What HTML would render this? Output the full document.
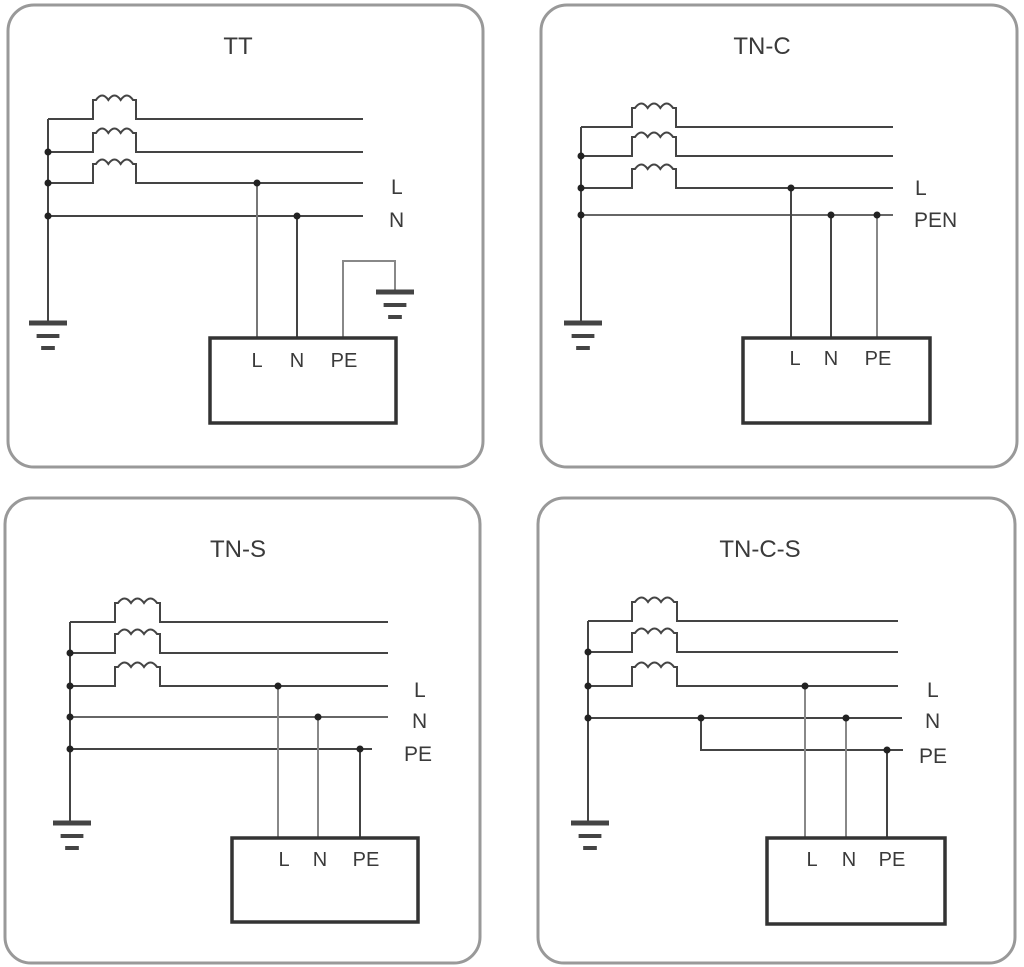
<!DOCTYPE html>
<html><head><meta charset="utf-8"><style>
html,body{margin:0;padding:0;background:#fff}
svg{display:block}
text{font-family:"Liberation Sans",Arial,sans-serif;fill:#3a3a3a}
</style></head><body>
<svg id="s" width="1024" height="967" viewBox="0 0 1024 967" xmlns="http://www.w3.org/2000/svg">
<g fill="none" stroke="#999" stroke-width="3">
<rect x="8" y="5" width="475" height="462" rx="26"/>
<rect x="541" y="5" width="476" height="462" rx="26"/>
<rect x="5" y="498" width="475" height="465" rx="26"/>
<rect x="538" y="498" width="477" height="465" rx="26"/>
</g>
<g font-size="24" text-anchor="middle">
<text x="238" y="54">TT</text>
<text x="762" y="54">TN-C</text>
<text x="238" y="557">TN-S</text>
<text x="760" y="557">TN-C-S</text>
</g>
<g font-size="21">
<text x="391" y="194">L</text><text x="389" y="227">N</text>
<text x="915" y="195">L</text><text x="914" y="227">PEN</text>
<text x="414" y="697">L</text><text x="412" y="728">N</text><text x="404" y="761">PE</text>
<text x="927" y="697">L</text><text x="925" y="728">N</text><text x="919" y="763">PE</text>
</g>
<g font-size="20" text-anchor="middle">
<text x="257" y="367">L</text><text x="297" y="367">N</text><text x="344" y="367">PE</text>
<text x="795" y="365">L</text><text x="831" y="365">N</text><text x="878" y="365">PE</text>
<text x="284" y="866">L</text><text x="320" y="866">N</text><text x="366" y="866">PE</text>
<text x="812" y="866">L</text><text x="849" y="866">N</text><text x="892" y="866">PE</text>
</g>
<g id="g" fill="none" stroke="#444" stroke-width="2"></g>
</svg>
<script>
var g=document.getElementById('g'),ns='http://www.w3.org/2000/svg';
function el(t,a){var e=document.createElementNS(ns,t);for(var k in a)e.setAttribute(k,a[k]);g.appendChild(e);return e;}
function P(d,w,c){el('path',{d:d,'stroke-width':w||2,stroke:c||'#444'});}
function dot(x,y){el('circle',{cx:x,cy:y,r:3.5,fill:'#222',stroke:'none'});}
function coilLine(x0,y,xa,xb,x1){
 var h=19,d='M'+x0+' '+y+'H'+xa+'V'+(y-h)+' ';
 var w=(xb-xa-6)/3; var cx=xa+3;
 d+='H'+cx;
 for(var i=0;i<3;i++){d+=' q'+(w/2)+' -9 '+w+' 0';}
 d+=' H'+xb+'V'+y+'H'+x1;P(d,2);
}
function ground(x,y,w){P('M'+(x-w/2)+' '+y+'h'+w,5);P('M'+(x-w*0.3)+' '+(y+13)+'h'+(w*0.6),4);P('M'+(x-w*0.18)+' '+(y+25)+'h'+(w*0.36),4);}
function box(x,y,w,h){el('rect',{x:x,y:y,width:w,height:h,'stroke-width':3.5,stroke:'#333'});}
// TT
[119,152,183].forEach(function(y){coilLine(48,y,93,136,363);});
P('M48 216H363');P('M48 119V322');[152,183,216].forEach(function(y){dot(48,y)});
ground(48,323,38);
P('M257 183V338',2,'#777');P('M297 216V338');dot(257,183);dot(297,216);
P('M343 338V261H395V291',2,'#888');ground(395,292,38);
box(210,338,186,85);
// TN-C
[127,156,188].forEach(function(y){coilLine(581,y,632,676,893);});
P('M581 215H893',2,'#666');P('M581 127V322');[156,188,215].forEach(function(y){dot(581,y)});
ground(583,323,38);
P('M791 188V338');P('M831 215V338');P('M877 215V338',2,'#888');dot(791,188);dot(831,215);dot(877,215);
box(743,338,187,85);
// TN-S
[622,653,686].forEach(function(y){coilLine(70,y,115,160,388);});
P('M70 717H388',2,'#666');P('M70 749H372');P('M70 622V822');[653,686,717,749].forEach(function(y){dot(70,y)});
ground(72,823,38);
P('M278 686V838',2,'#888');P('M318 717V838',2,'#888');P('M360 749V838');dot(278,686);dot(318,717);dot(360,749);
box(232,838,186,84);
// TN-C-S
[621,652,686].forEach(function(y){coilLine(588,y,632,677,898);});
P('M588 718H902');P('M701 718V750H903');P('M588 621V822');[652,686,718].forEach(function(y){dot(588,y)});
ground(590,823,38);
P('M805 686V838',2,'#888');P('M846 718V838',2,'#888');P('M887 750V838');dot(805,686);dot(846,718);dot(887,750);dot(701,718);
box(767,838,178,86);
</script>
</body></html>
